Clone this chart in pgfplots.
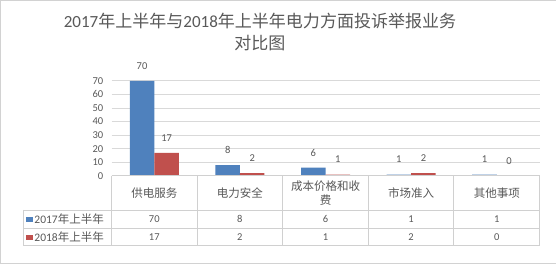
\documentclass[border=0pt]{standalone}
\usepackage{fontspec}
\setmainfont{Carlito}
\newfontfamily\cjk{Noto Sans CJK SC}
\usepackage{pgfplots}
\pgfplotsset{compat=1.18}
\definecolor{cblue}{HTML}{4F81BD}
\definecolor{cred}{HTML}{C0504D}
\definecolor{txt}{HTML}{595959}
\definecolor{gridc}{HTML}{D9D9D9}
\definecolor{tabc}{HTML}{D0D0D0}
\begin{document}
\begin{tikzpicture}[x=1pt,y=1pt]
\path[draw=gray!35, fill=white] (0.5,0.5) rectangle (555.5,263.5);
\node[align=center, text=txt, font=\fontsize{17}{22}\selectfont] at (260,232) {2017{\cjk 年上半年与}2018{\cjk 年上半年电力方面投诉举报业务}\\{\cjk 对比图}};
\begin{axis}[at={(111.7pt,88pt)}, anchor=south west, scale only axis,
  width=427.6pt, height=95pt,
  ymin=0, ymax=70, xmin=-0.5, xmax=4.5, ytick={0,10,...,70},
  xtick={0,1,2,3,4},
  xticklabels={{\cjk 供电服务},{\cjk 电力安全},{\cjk 成本价格和收\\\cjk 费},{\cjk 市场准入},{\cjk 其他事项}},
  xticklabel style={align=center, anchor=center, yshift=-17.3pt, inner sep=0pt,
     font=\fontsize{11.5}{14.3}\selectfont, text=txt},
  ybar=0pt, bar width=24.5pt,
  axis line style={draw=none},
  ymajorgrids, grid style={gridc, line width=0.8pt},
  major tick length=0pt,
  yticklabel style={anchor=east, xshift=-8pt, inner sep=0pt, font=\fontsize{10.5}{12}\selectfont, text=txt},
  /pgf/number format/assume math mode=true,
  nodes near coords,
  nodes near coords style={anchor=center, yshift=15pt, font=\fontsize{10.5}{12}\selectfont, text=txt},
  clip=false]
\addplot[fill=cblue, draw=none] coordinates {(0,70) (1,8) (2,6) (3,1) (4,1)};
\addplot[fill=cred, draw=none] coordinates {(0,17) (1,2) (2,1) (3,2) (4,0)};
\end{axis}
% data table
\begin{scope}[draw=tabc, line width=0.8pt]
\draw (111.7,88) -- (539.3,88);
\draw (23.3,54) -- (539.3,54);
\draw (23.3,36) -- (539.3,36);
\draw (23.3,18.3) -- (539.3,18.3);
\foreach \x in {111.7,197.2,282.7,368.2,453.7,539.3} \draw (\x,88) -- (\x,18.3);
\draw (23.3,54) -- (23.3,18.3);
\end{scope}
\fill[cblue] (26.7,42.3) rectangle (33.3,47.3);
\fill[cred] (26.7,24.3) rectangle (33.3,29.3);
\node[anchor=west, inner sep=0pt, text=txt, font=\fontsize{11.5}{14}\selectfont] at (34.5,45) {2017{\cjk 年上半年}};
\node[anchor=west, inner sep=0pt, text=txt, font=\fontsize{11.5}{14}\selectfont] at (34.5,27) {2018{\cjk 年上半年}};
\foreach \v [count=\i from 0] in {70,8,6,1,1}
  \node[text=txt, font=\fontsize{10.5}{12}\selectfont] at (154.45+85.5*\i,45) {\v};
\foreach \v [count=\i from 0] in {17,2,1,2,0}
  \node[text=txt, font=\fontsize{10.5}{12}\selectfont] at (154.45+85.5*\i,27) {\v};
\end{tikzpicture}
\end{document}
